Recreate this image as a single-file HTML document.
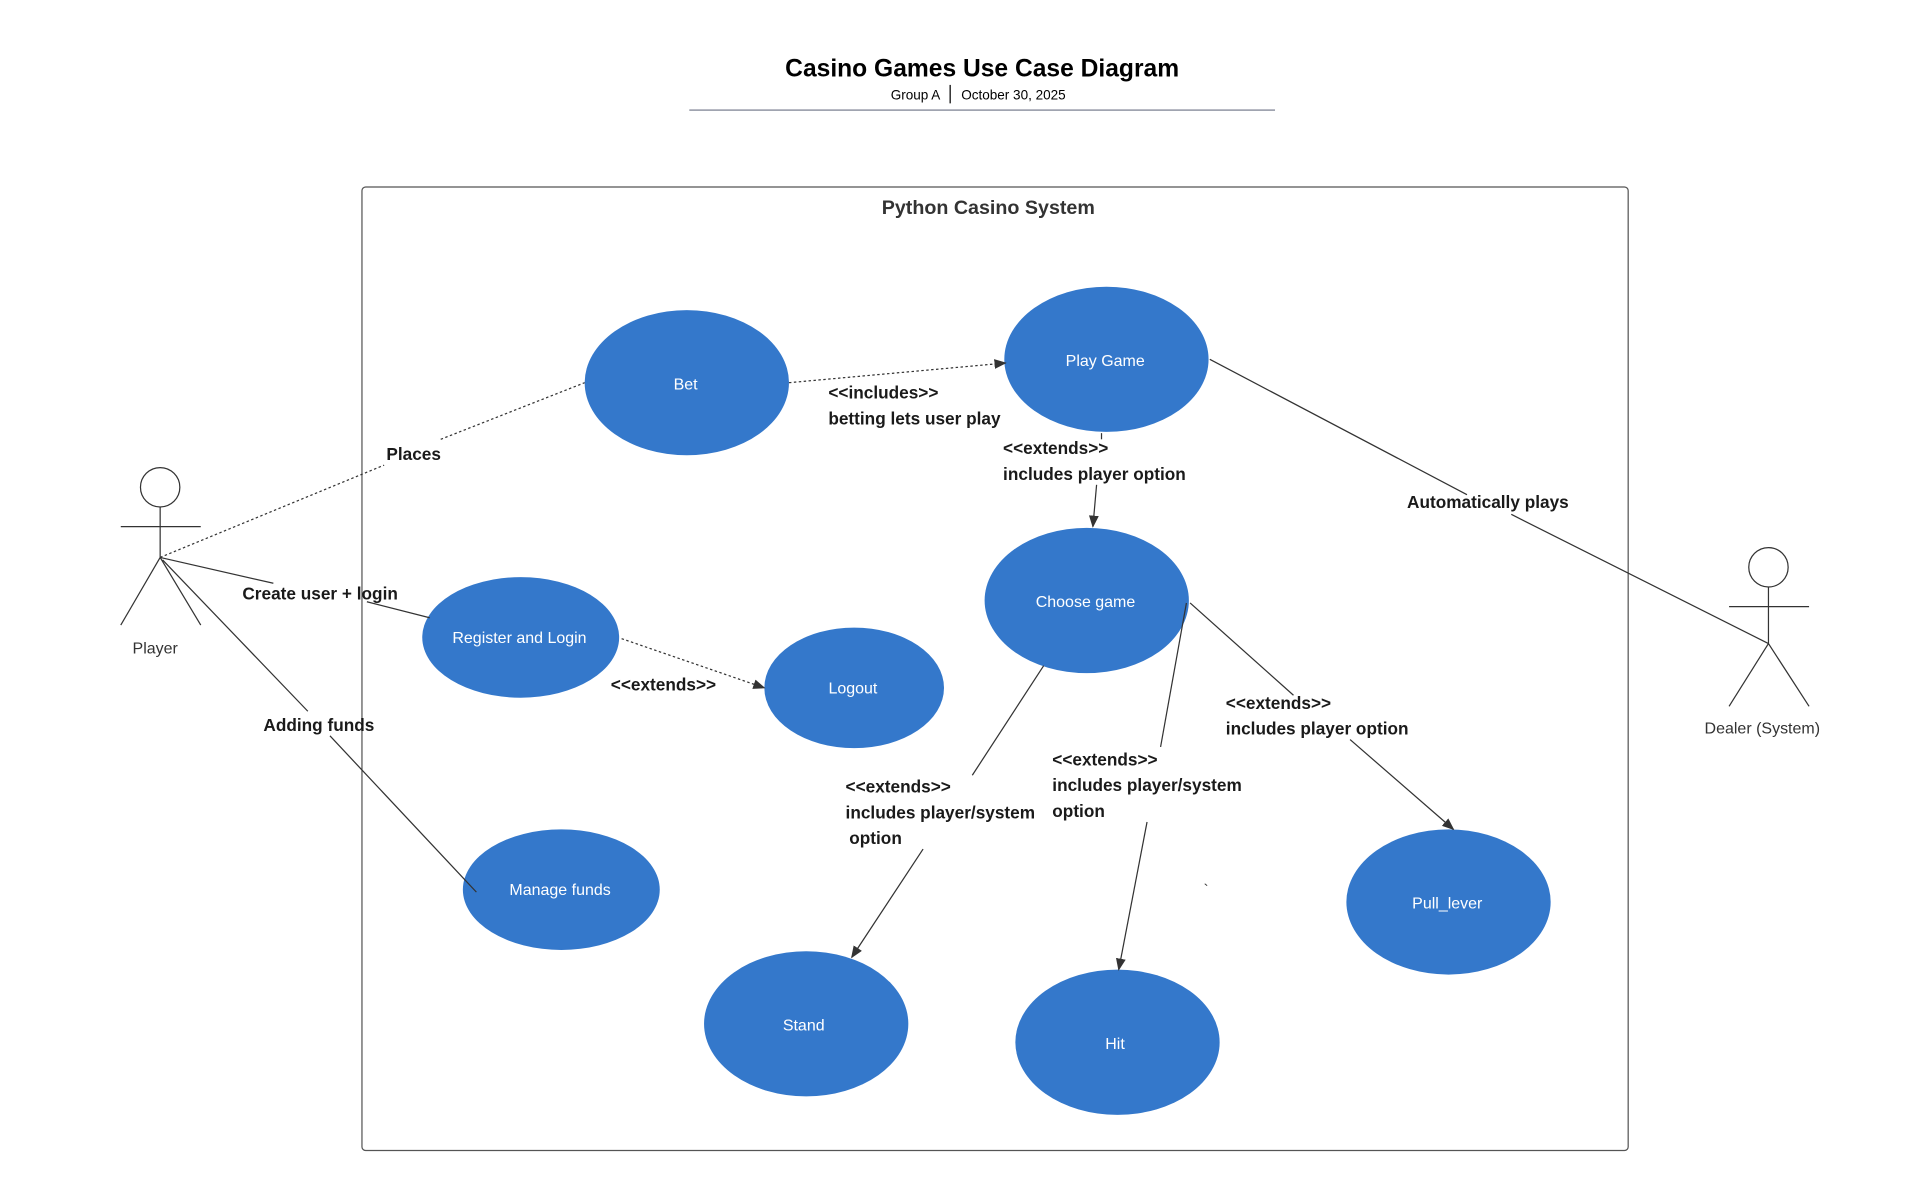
<!DOCTYPE html>
<html><head><meta charset="utf-8"><style>
html,body{margin:0;padding:0;background:#fff;}
svg{display:block;}
text{font-family:"Liberation Sans",sans-serif;}
.lb{font-size:14px;font-weight:bold;fill:#1a1a1a;}
.uc{font-size:13px;fill:#fff;text-anchor:middle;dominant-baseline:middle;}
.ln{stroke:#333;stroke-width:1;fill:none;}
.dt{stroke:#333;stroke-width:1;fill:none;stroke-dasharray:2,2;}
</style></head><body>
<svg width="1920" height="1185" viewBox="0 0 1560 963" xmlns="http://www.w3.org/2000/svg">
<defs><marker id="a" markerWidth="10" markerHeight="8" refX="9" refY="4" orient="auto" markerUnits="userSpaceOnUse"><path d="M0,0 L10,4 L0,8 z" fill="#333"/></marker></defs>
<text x="798" y="62" font-size="20" font-weight="bold" text-anchor="middle" fill="#000">Casino Games Use Case Diagram</text>
<text x="764" y="81" font-size="11" text-anchor="end" fill="#000">Group A</text>
<line x1="772" y1="69" x2="772" y2="84" stroke="#000"/>
<text x="781" y="81" font-size="11" fill="#000">October 30, 2025</text>
<line x1="560" y1="89.5" x2="1036" y2="89.5" stroke="#a0a4b0" stroke-width="1.5"/>
<rect x="294" y="152" width="1029" height="783" rx="3" fill="none" stroke="#555"/>
<text x="803" y="174" font-size="16" font-weight="bold" text-anchor="middle" fill="#333">Python Casino System</text>

<g fill="#3478cb">
<ellipse cx="558" cy="311" rx="83" ry="59"/>
<ellipse cx="899" cy="292" rx="83" ry="59"/>
<ellipse cx="883" cy="488" rx="83" ry="59"/>
<ellipse cx="423" cy="518" rx="80" ry="49"/>
<ellipse cx="694" cy="559" rx="73" ry="49"/>
<ellipse cx="456" cy="723" rx="80" ry="49"/>
<ellipse cx="655" cy="832" rx="83" ry="59"/>
<ellipse cx="908" cy="847" rx="83" ry="59"/>
<ellipse cx="1177" cy="733" rx="83" ry="59"/>
</g>
<text class="uc" x="557" y="313">Bet</text>
<text class="uc" x="898" y="294">Play Game</text>
<text class="uc" x="882" y="490">Choose game</text>
<text class="uc" x="422" y="519">Register and Login</text>
<text class="uc" x="693" y="560">Logout</text>
<text class="uc" x="455" y="724">Manage funds</text>
<text class="uc" x="653" y="834">Stand</text>
<text class="uc" x="906" y="849">Hit</text>
<text class="uc" x="1176" y="735">Pull_lever</text>

<!-- actors -->
<g stroke="#333" fill="none">
<circle cx="130" cy="396" r="16"/>
<line x1="130" y1="412" x2="130" y2="453"/>
<line x1="98" y1="428" x2="163" y2="428"/>
<line x1="130" y1="453" x2="98" y2="508"/>
<line x1="130" y1="453" x2="163" y2="508"/>
<circle cx="1437" cy="461" r="16"/>
<line x1="1437" y1="477" x2="1437" y2="523"/>
<line x1="1405" y1="493" x2="1470" y2="493"/>
<line x1="1437" y1="523" x2="1405" y2="574"/>
<line x1="1437" y1="523" x2="1470" y2="574"/>
</g>
<text x="126" y="531" font-size="13" text-anchor="middle" fill="#333">Player</text>
<text x="1432" y="596" font-size="13" text-anchor="middle" fill="#333">Dealer (System)</text>

<!-- connectors -->
<path class="dt" d="M130,453 L312,378 M358,357 L475,311"/>
<text class="lb" x="336" y="374" text-anchor="middle">Places</text>
<path class="ln" d="M130,453 L222,474 M298,489 L349,502" stroke-width="1.3"/>
<text class="lb" x="260" y="487" text-anchor="middle">Create user + login</text>
<path class="ln" d="M132,455 L250,578 M268,598 L387,725" stroke-width="1.3"/>
<text class="lb" x="259" y="594" text-anchor="middle">Adding funds</text>

<path class="dt" d="M641,311 L817,295" marker-end="url(#a)"/>
<text class="lb" x="673" y="324">&lt;&lt;includes&gt;&gt;</text>
<text class="lb" x="673" y="345">betting lets user play</text>

<path class="ln" d="M895,352 L895,357"/>
<path class="ln" d="M891,394 L888,428" marker-end="url(#a)"/>
<text class="lb" x="815" y="369">&lt;&lt;extends&gt;&gt;</text>
<text class="lb" x="815" y="390">includes player option</text>

<path class="ln" d="M983,292 L1192,402 M1228,418 L1437,523"/>
<text class="lb" x="1209" y="413" text-anchor="middle">Automatically plays</text>

<path class="dt" d="M505,519 L621,559" marker-end="url(#a)"/>
<text class="lb" x="539" y="561" text-anchor="middle">&lt;&lt;extends&gt;&gt;</text>

<path class="ln" d="M848,541 L790,630"/>
<path class="ln" d="M750,690 L692,778" marker-end="url(#a)"/>
<text class="lb" x="687" y="644">&lt;&lt;extends&gt;&gt;</text>
<text class="lb" x="687" y="665">includes player/system</text>
<text class="lb" x="690" y="686">option</text>

<path class="ln" d="M964,490 L943,607"/>
<path class="ln" d="M932,668 L909,788" marker-end="url(#a)"/>
<text class="lb" x="855" y="622">&lt;&lt;extends&gt;&gt;</text>
<text class="lb" x="855" y="643">includes player/system</text>
<text class="lb" x="855" y="664">option</text>

<path class="ln" d="M967,490 L1051,565"/>
<path class="ln" d="M1097,601 L1181,674" marker-end="url(#a)"/>
<text class="lb" x="996" y="576">&lt;&lt;extends&gt;&gt;</text>
<text class="lb" x="996" y="597">includes player option</text>

<text x="978" y="727" font-size="12" fill="#333">`</text>
</svg>
</body></html>
